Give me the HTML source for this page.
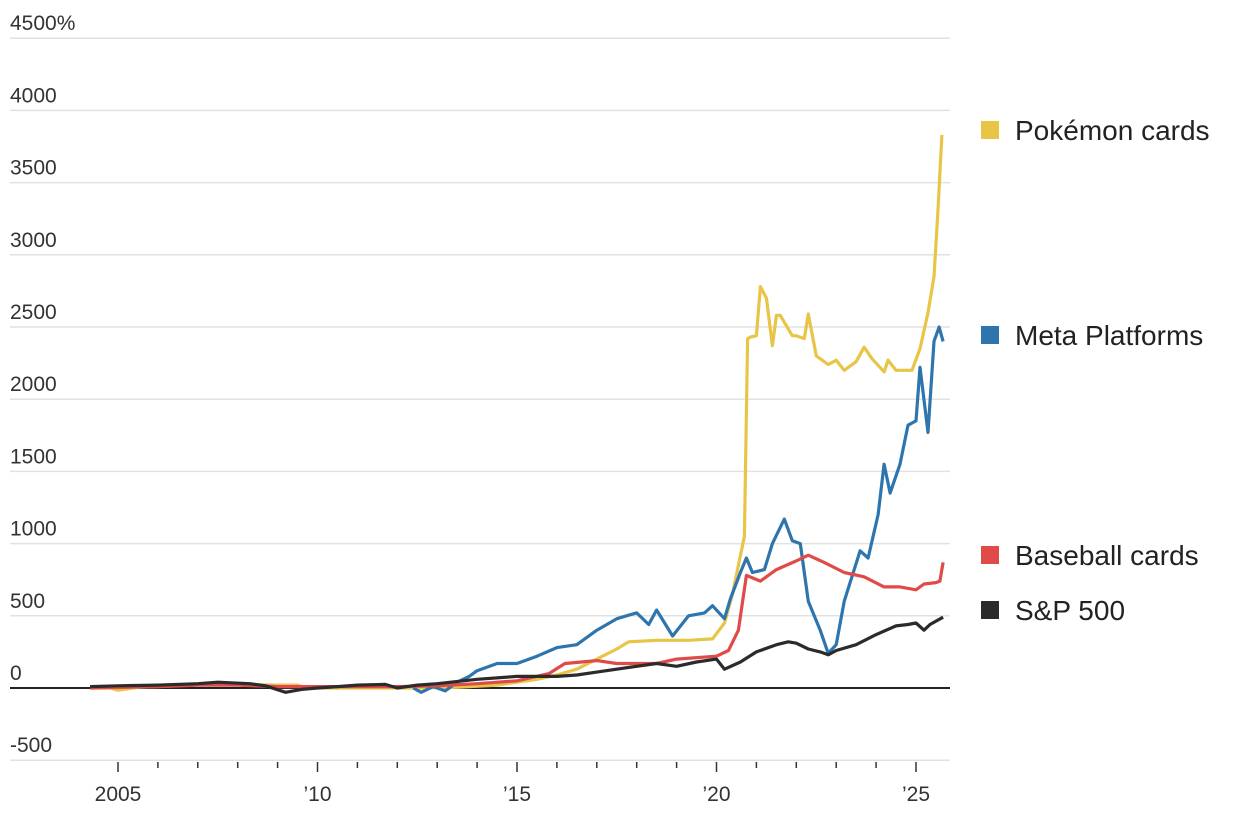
<!DOCTYPE html>
<html><head><meta charset="utf-8"><style>
body{margin:0;background:#fff;font-family:"Liberation Sans",sans-serif;}
svg text{font-family:"Liberation Sans",sans-serif;}
</style></head><body>
<svg id="chart" width="1250" height="810">
<g id="grid"></g><g id="series"></g><g id="legend"></g>
</svg>
<script>
const yTicks=[-500,0,500,1000,1500,2000,2500,3000,3500,4000,4500];
const yTickLabels=["-500","0","500","1000","1500","2000","2500","3000","3500","4000","4500%"];
const xTickYears=[2005,2010,2015,2020,2025];
const xTickLabels=["2005","’10","’15","’20","’25"];
const pokemonYears=[2004.3,2004.8,2005,2005.5,2006.5,2007,2008,2009,2009.5,2009.7,2010.5,2011.5,2012.5,2013.5,2014.5,2015,2015.5,2016,2016.5,2017,2017.5,2017.8,2018.5,2019.3,2019.9,2020.2,2020.4,2020.55,2020.7,2020.78,2020.85,2021.0,2021.1,2021.25,2021.4,2021.5,2021.6,2021.9,2022.0,2022.2,2022.3,2022.5,2022.8,2023.0,2023.2,2023.5,2023.7,2023.9,2024.2,2024.3,2024.5,2024.9,2025.1,2025.3,2025.45,2025.55,2025.65];
const pokemonValues=[0,0,-15,5,15,25,25,20,20,0,0,0,0,5,20,40,60,90,130,200,270,320,330,330,340,450,650,850,1050,2420,2430,2440,2780,2700,2370,2580,2580,2440,2440,2420,2590,2300,2240,2270,2200,2260,2360,2280,2190,2270,2200,2200,2350,2600,2850,3300,3830];
const metaYears=[2012.4,2012.6,2012.9,2013.2,2013.5,2013.8,2014,2014.5,2015,2015.5,2016,2016.5,2017,2017.5,2018,2018.3,2018.5,2018.9,2019.3,2019.7,2019.9,2020.2,2020.35,2020.6,2020.75,2020.9,2021.2,2021.4,2021.7,2021.9,2022.1,2022.3,2022.6,2022.8,2023.0,2023.2,2023.6,2023.8,2024.05,2024.2,2024.35,2024.6,2024.8,2025.0,2025.1,2025.3,2025.45,2025.58,2025.68];
const metaValues=[0,-30,10,-20,40,80,120,170,170,220,280,300,400,480,520,440,540,360,500,520,570,480,620,800,900,800,820,1000,1170,1020,1000,600,400,240,300,600,950,900,1200,1550,1350,1550,1820,1850,2220,1770,2400,2500,2400];
const baseballYears=[2004.3,2006,2007,2008,2009,2010,2012,2013,2014,2015,2015.8,2016.2,2017,2017.5,2018.5,2019,2020,2020.3,2020.55,2020.75,2021.1,2021.5,2022.0,2022.3,2022.7,2023.2,2023.7,2024.2,2024.6,2025.0,2025.2,2025.5,2025.6,2025.68];
const baseballValues=[0,10,20,20,10,10,10,15,30,50,100,170,190,170,170,200,220,260,400,780,740,820,880,920,870,800,770,700,700,680,720,730,740,870];
const spYears=[2004.3,2005,2006,2007,2007.5,2008.3,2008.7,2009.2,2009.6,2010,2010.5,2011,2011.7,2012,2012.5,2013,2014,2015,2016,2016.5,2017,2018,2018.5,2019,2019.5,2020,2020.2,2020.6,2021,2021.5,2021.8,2022,2022.3,2022.6,2022.8,2023,2023.5,2024,2024.5,2024.8,2025,2025.2,2025.35,2025.68];
const spValues=[10,15,20,30,40,30,15,-30,-10,0,10,20,25,0,20,30,60,80,80,90,110,150,170,150,180,200,130,180,250,300,320,310,270,250,230,260,300,370,430,440,450,400,440,490];
const seriesNames=["pokemon","meta","baseball","sp500"];
const legendLabels=["Pokémon cards","Meta Platforms","Baseball cards","S&P 500"];
const legendY=[130,335,555,610];
const colors=["#e8c547","#2e75ad","#e04a48","#2b2b2b"];
const NS="http://www.w3.org/2000/svg";
function x(yr){return 118+(yr-2005)*39.9;}
function y(v){return 688-v*(72.2/500);}
const grid=document.getElementById('grid');
yTicks.forEach((t,i)=>{
 const l=document.createElementNS(NS,'line');
 
 
 l.setAttribute('x1',10);l.setAttribute('x2',950);l.setAttribute('y1',y(t));l.setAttribute('y2',y(t));
 l.setAttribute('stroke',t===0?'#222':'#e2e2e2');l.setAttribute('stroke-width',t===0?2:1.5);
 grid.appendChild(l);
 const tx=document.createElementNS(NS,'text');
 
 
 tx.setAttribute('x',10);tx.setAttribute('y',y(t)-8);tx.setAttribute('font-size',21);tx.setAttribute('fill','#333');
 tx.textContent=yTickLabels[i];grid.appendChild(tx);
});
for(let yr=2005;yr<=2025;yr++){
 const l=document.createElementNS(NS,'line');
 
 
 l.setAttribute('x1',x(yr));l.setAttribute('x2',x(yr));l.setAttribute('y1',762);l.setAttribute('y2',yr%5===0?772:768);
 l.setAttribute('stroke','#333');l.setAttribute('stroke-width',1.5);grid.appendChild(l);
}
xTickYears.forEach((yr,i)=>{
 const tx=document.createElementNS(NS,'text');
 
 
 tx.setAttribute('x',x(yr));tx.setAttribute('y',801);tx.setAttribute('font-size',21);tx.setAttribute('fill','#333');tx.setAttribute('text-anchor','middle');
 tx.textContent=xTickLabels[i];grid.appendChild(tx);
});
const sg=document.getElementById('series');
const allX=[pokemonYears,metaYears,baseballYears,spYears],allV=[pokemonValues,metaValues,baseballValues,spValues];
allX.forEach((xs,i)=>{
 const p=document.createElementNS(NS,'path');
 
 
 p.setAttribute('d',xs.map((yr,j)=>(j?'L':'M')+x(yr).toFixed(1)+','+y(allV[i][j]).toFixed(1)).join(''));
 p.setAttribute('fill','none');p.setAttribute('stroke',colors[i]);p.setAttribute('stroke-width',3.2);p.setAttribute('stroke-linejoin','round');
 sg.appendChild(p);
});
const lg=document.getElementById('legend');
legendLabels.forEach((t,i)=>{
 const r=document.createElementNS(NS,'rect');
 
 
 r.setAttribute('x',981);r.setAttribute('y',legendY[i]-9);r.setAttribute('width',18);r.setAttribute('height',18);r.setAttribute('fill',colors[i]);
 lg.appendChild(r);
 const tx=document.createElementNS(NS,'text');
 
 
 tx.setAttribute('x',1015);tx.setAttribute('y',legendY[i]+10);tx.setAttribute('font-size',28);tx.setAttribute('fill','#222');
 tx.textContent=t;lg.appendChild(tx);
});
</script>
</body></html>
